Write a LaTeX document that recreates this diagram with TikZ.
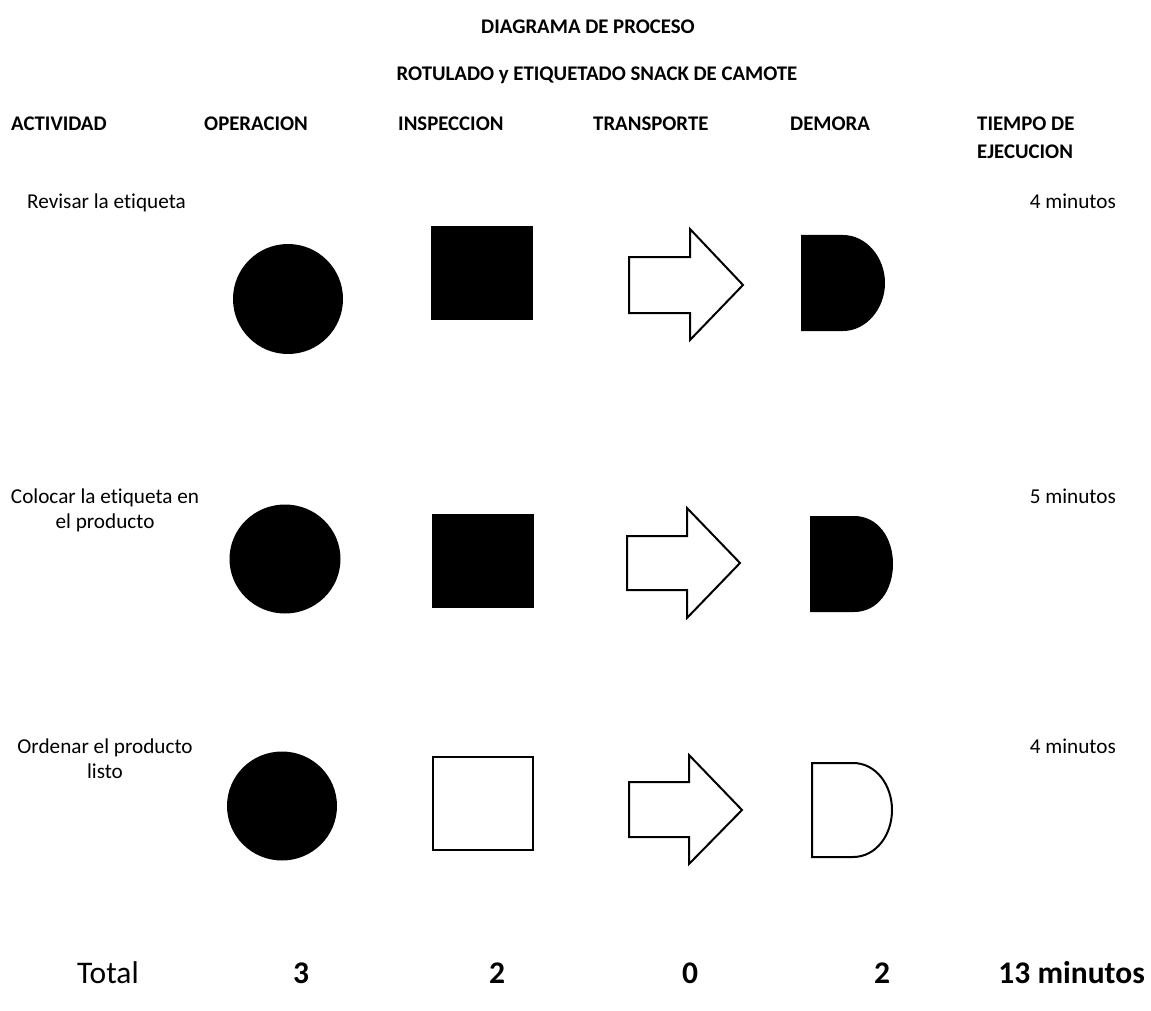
\documentclass[tikz,border=0pt]{standalone}
\usepackage{fontspec}
\setmainfont{Carlito}[Ligatures=NoCommon]
\begin{document}
\begin{tikzpicture}[x=1pt,y=-1pt,
  txt/.style={font=\fontsize{21.2}{25}\selectfont, inner sep=0pt, anchor=base},
  hdr/.style={font=\fontsize{20.8}{25}\selectfont\bfseries, inner sep=0pt, anchor=base west},
  ttl/.style={font=\fontsize{20.8}{25}\selectfont\bfseries, inner sep=0pt, anchor=base},
  big/.style={font=\fontsize{31.5}{37}\selectfont, inner sep=0pt, anchor=base},
  bigb/.style={font=\fontsize{31.5}{37}\selectfont\bfseries, inner sep=0pt, anchor=base},
  solidshape/.style={fill=black},
  openshape/.style={draw=black, line width=2pt, line join=miter, fill=white}]
\useasboundingbox[fill=white] (0,0) rectangle (1151,1011);

% titles
\node[ttl] (t1) at (588,34) {DIAGRAMA DE PROCESO};
\node[ttl] (t2) at (597,81) {ROTULADO y ETIQUETADO SNACK DE CAMOTE};

% headers
\node[hdr] (hAct) at (11,131) {ACTIVIDAD};
\node[hdr] (hOp) at (204,131) {OPERACION};
\node[hdr] (hIn) at (398,131) {INSPECCION};
\node[hdr] (hTr) at (593,131) {TRANSPORTE};
\node[hdr] (hDe) at (790,131) {DEMORA};
\node[hdr] (hTi) at (977,131) {TIEMPO DE};
\node[hdr] (hTi2) at (977,159) {EJECUCION};

% activities
\node[txt, anchor=base west] (a1) at (27,208) {Revisar la etiqueta};
\node[txt, anchor=base east] (m1) at (1116,208) {4 minutos};
\node[txt] (a2) at (105,503) {Colocar la etiqueta en};
\node[txt] (a2b) at (105,528) {el producto};
\node[txt, anchor=base east] (m2) at (1116,503) {5 minutos};
\node[txt] (a3) at (105,753) {Ordenar el producto};
\node[txt] (a3b) at (105,778) {listo};
\node[txt, anchor=base east] (m3) at (1116,753) {4 minutos};

% row 1
\fill[solidshape] (288,299) ellipse [x radius=55, y radius=55];
\fill[solidshape] (431,226) rectangle (533,320);
\draw[openshape] (629,257) -- (690,257) -- (690,229) -- (743,285) -- (690,340) -- (690,313) -- (629,313) -- cycle;
\fill[solidshape] (801,235) -- (843,235) .. controls (866,235) and (885,257) .. (885,283)
  .. controls (885,309) and (866,331) .. (843,331) -- (801,331) -- cycle;

% row 2
\fill[solidshape] (285,559) ellipse [x radius=55.5, y radius=54.5];
\fill[solidshape] (432,514) rectangle (534,608);
\draw[openshape] (627,536) -- (687,536) -- (687,508) -- (740,563) -- (687,618) -- (687,590) -- (627,590) -- cycle;
\fill[solidshape] (810,516) -- (854,516) .. controls (878,516) and (893,538) .. (893,564)
  .. controls (893,590) and (878,612) .. (854,612) -- (810,612) -- cycle;

% row 3
\fill[solidshape] (282,806) ellipse [x radius=55, y radius=54.5];
\draw[openshape] (433,757) rectangle (533,850);
\draw[openshape] (629,782) -- (689,782) -- (689,755) -- (742,810) -- (689,864) -- (689,837) -- (629,837) -- cycle;
\draw[openshape] (812,763) -- (853,763) .. controls (876,763) and (892,785) .. (892,810)
  .. controls (892,835) and (876,857) .. (853,857) -- (812,857) -- cycle;

% totals
\node[big] (tot) at (108,983) {Total};
\node[bigb] (n1) at (301,983) {3};
\node[bigb] (n2) at (497,983) {2};
\node[bigb] (n3) at (690,983) {0};
\node[bigb] (n4) at (882,983) {2};
\node[bigb, anchor=base east] (n5) at (1145,983) {13 minutos};
\end{tikzpicture}
\end{document}
